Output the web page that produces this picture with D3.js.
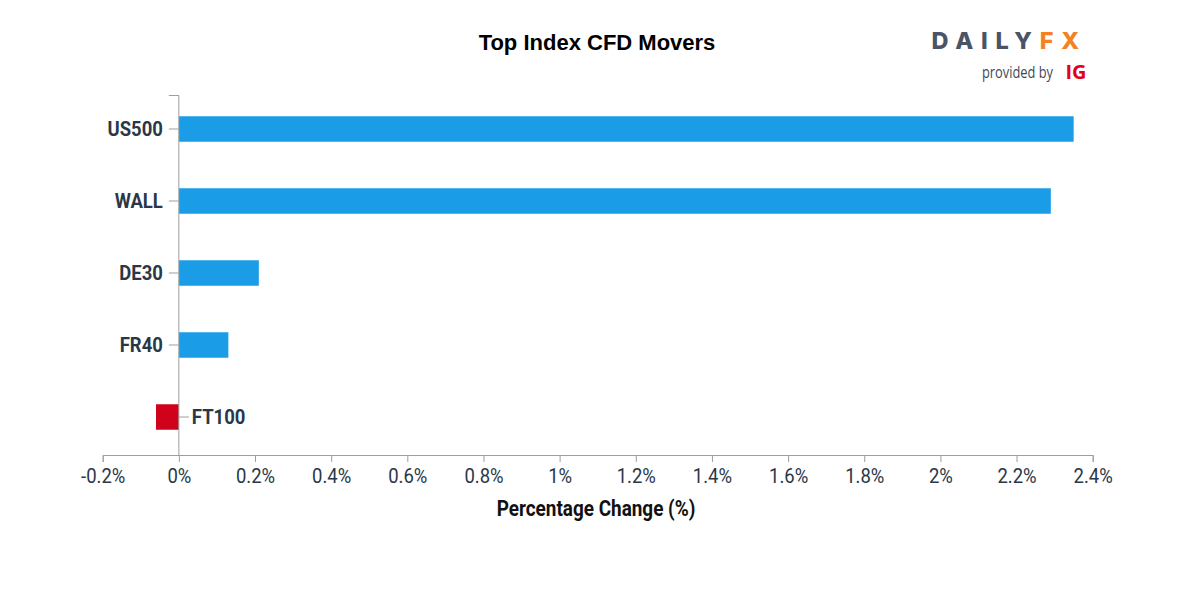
<!DOCTYPE html>
<html>
<head>
<meta charset="utf-8">
<script src="https://cdn.jsdelivr.net/npm/d3@7"></script>
<style>
  html, body { margin: 0; padding: 0; background: #fff; }
  svg { display: block; }
</style>
</head>
<body>
<svg id="chart" width="1200" height="600"></svg>
<script>
const categories = ["US500", "WALL", "DE30", "FR40", "FT100"];
const changes = [2.35, 2.29, 0.21, 0.13, -0.06];
const xTicks = [-0.2, 0, 0.2, 0.4, 0.6, 0.8, 1, 1.2, 1.4, 1.6, 1.8, 2, 2.2, 2.4];
const chartTitle = "Top Index CFD Movers";
const xTitle = "Percentage Change (%)";

const data = categories.map((c, i) => ({ name: c, value: changes[i] }));

const svg = d3.select("#chart");
const textColor = "#2a3748";
const axisColor = "#9e9e9e";
const sx = 0.88;

const x = d3.scaleLinear().domain([-0.2, 2.4]).range([102.7, 1092.7]);
const y = d3.scaleBand().domain(categories).range([93, 453])
  .paddingInner(0.646).paddingOuter(0.323);

// Title
svg.append("text")
  .attr("x", 597).attr("y", 49.5)
  .attr("text-anchor", "middle")
  .attr("font-family", "'Liberation Sans', Arial, sans-serif")
  .attr("font-weight", "bold")
  .attr("font-size", 22)
  .attr("fill", "#000")
  .text(chartTitle);

// Bars
svg.append("g").selectAll("rect").data(data).join("rect")
  .attr("x", d => x(Math.min(0, d.value)))
  .attr("y", d => y(d.name))
  .attr("width", d => Math.abs(x(d.value) - x(0)))
  .attr("height", y.bandwidth())
  .attr("fill", d => d.value >= 0 ? "#1a9de6" : "#d0021b");

// X axis
const xAxisG = svg.append("g")
  .attr("transform", "translate(0,455)")
  .call(d3.axisBottom(x).tickValues(xTicks)
    .tickFormat(d => (+d.toFixed(1)) + "%")
    .tickSize(7).tickPadding(6));
xAxisG.select(".domain").attr("stroke", axisColor);
xAxisG.selectAll(".tick line").attr("stroke", axisColor);
xAxisG.selectAll(".tick text")
  .attr("font-family", "Roboto, sans-serif")
  .attr("font-size", 21)
  .attr("fill", textColor)
  .attr("transform", `scale(${sx},1)`);

// Y axis
const yAxisG = svg.append("g")
  .attr("transform", `translate(${x(0)},0)`)
  .call(d3.axisLeft(y).tickSize(10).tickPadding(6));
yAxisG.select(".domain").attr("stroke", axisColor).attr("d", "M-10,95.5H0V455");
yAxisG.selectAll(".tick line").attr("stroke", axisColor);
yAxisG.selectAll(".tick text")
  .attr("font-family", "Roboto, sans-serif")
  .attr("font-weight", "bold")
  .attr("font-size", 21)
  .attr("fill", textColor)
  .attr("x", -16 / sx)
  .attr("transform", `scale(${sx},1)`);
yAxisG.selectAll(".tick").filter(d => data.find(e => e.name === d).value < 0)
  .each(function () {
    const t = d3.select(this);
    t.select("line").attr("x2", 10);
    t.select("text").attr("x", 13 / sx).attr("text-anchor", "start");
  });

// X axis title
svg.append("text")
  .attr("transform", `translate(596,516) scale(${sx},1)`)
  .attr("text-anchor", "middle")
  .attr("font-family", "Roboto, sans-serif")
  .attr("font-weight", "bold")
  .attr("font-size", 21.5)
  .attr("fill", "#111")
  .text(xTitle);

// Logo
const logo = svg.append("g");
const brand = logo.append("text")
  .attr("x", 931.5).attr("y", 49)
  .attr("font-family", "Inter, 'Open Sans', sans-serif")
  .attr("font-weight", 800)
  .attr("font-size", 23.5)
  .attr("letter-spacing", 7.8);
brand.append("tspan").attr("fill", "#4a5466").text("DAILY");
brand.append("tspan").attr("fill", "#f5821f").text("FX");
logo.append("text")
  .attr("x", 982).attr("y", 78)
  .attr("font-family", "'Open Sans', sans-serif")
  .attr("font-size", 15.5)
  .attr("fill", "#3f4858")
  .attr("textLength", 71).attr("lengthAdjust", "spacingAndGlyphs")
  .text("provided by");
logo.append("text")
  .attr("x", 1065.5).attr("y", 79)
  .attr("font-family", "'Open Sans', sans-serif")
  .attr("font-weight", "bold")
  .attr("font-size", 20)
  .attr("fill", "#e2001a")
  .attr("textLength", 21).attr("lengthAdjust", "spacingAndGlyphs")
  .text("IG");
</script>
</body>
</html>
